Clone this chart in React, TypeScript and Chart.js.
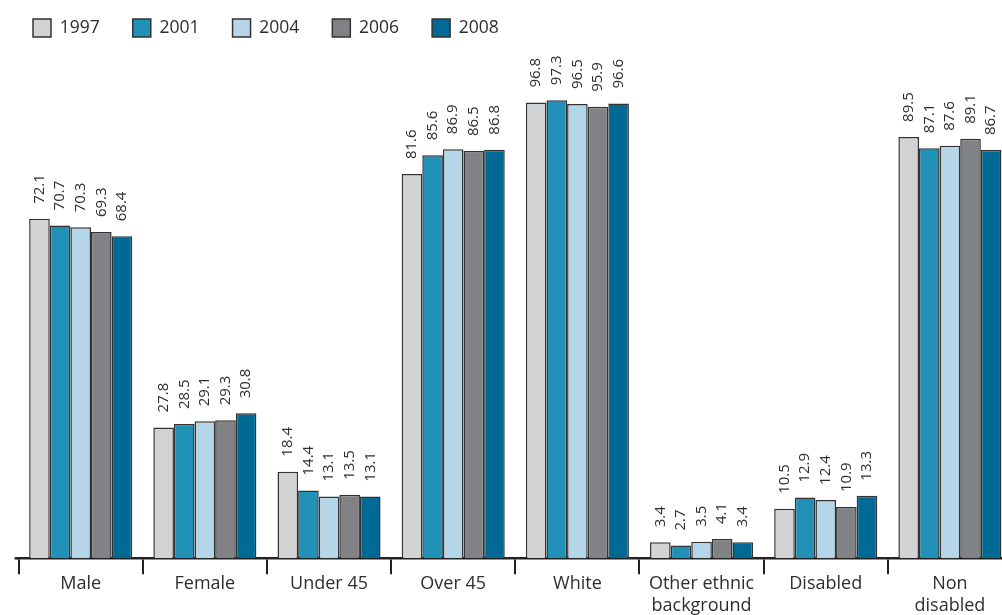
import React, { useEffect, useRef } from "react";
import { Chart, registerables } from "chart.js";

Chart.register(...registerables);

const categories: (string | string[])[] = [
  "Male",
  "Female",
  "Under 45",
  "Over 45",
  "White",
  ["Other ethnic", "background"],
  "Disabled",
  ["Non", "disabled"],
];

const years = ["1997", "2001", "2004", "2006", "2008"];

const values1997 = [72.1, 27.8, 18.4, 81.6, 96.8, 3.4, 10.5, 89.5];
const values2001 = [70.7, 28.5, 14.4, 85.6, 97.3, 2.7, 12.9, 87.1];
const values2004 = [70.3, 29.1, 13.1, 86.9, 96.5, 3.5, 12.4, 87.6];
const values2006 = [69.3, 29.3, 13.5, 86.5, 95.9, 4.1, 10.9, 89.1];
const values2008 = [68.4, 30.8, 13.1, 86.8, 96.6, 3.4, 13.3, 86.7];

const seriesValues = [values1997, values2001, values2004, values2006, values2008];
const seriesColors = ["#d1d3d4", "#2191b7", "#b5d6e8", "#808285", "#006994"];

const FONT = "'Open Sans', 'DejaVu Sans', sans-serif";
const TEXT = "#2e2e2e";
const LEFT_PAD = 18.6;

// Vertical value labels above every bar
const barValueLabels = {
  id: "barValueLabels",
  afterDatasetsDraw(chart: any) {
    const ctx = chart.ctx;
    ctx.save();
    ctx.fillStyle = TEXT;
    ctx.font = `15px ${FONT}`;
    ctx.textAlign = "left";
    ctx.textBaseline = "middle";
    chart.data.datasets.forEach((ds: any, di: number) => {
      const meta = chart.getDatasetMeta(di);
      meta.data.forEach((bar: any, i: number) => {
        const v = ds.data[i];
        ctx.save();
        ctx.translate(bar.x, bar.y - 15);
        ctx.rotate(-Math.PI / 2);
        ctx.fillText(v.toFixed(1), 0, 0);
        ctx.restore();
      });
    });
    ctx.restore();
  },
};

// Pull the legend row flush to the canvas edge instead of the plot's left inset
const legendToEdge = {
  id: "legendToEdge",
  afterLayout(chart: any) {
    const lg = chart.legend;
    if (lg) {
      lg.left -= LEFT_PAD;
      lg.right -= LEFT_PAD;
    }
  },
};

// Short stub of the baseline to the left of the first category
const axisStub = {
  id: "axisStub",
  afterDraw(chart: any) {
    const { ctx, chartArea } = chart;
    ctx.save();
    ctx.strokeStyle = "#222222";
    ctx.lineWidth = 2.5;
    ctx.beginPath();
    ctx.moveTo(chartArea.left - 4, chartArea.bottom);
    ctx.lineTo(chartArea.left, chartArea.bottom);
    ctx.stroke();
    ctx.restore();
  },
};

export default function App() {
  const canvasRef = useRef<HTMLCanvasElement | null>(null);

  useEffect(() => {
    if (!canvasRef.current) return;
    const chart = new Chart(canvasRef.current, {
      type: "bar",
      data: {
        labels: categories,
        datasets: years.map((y, i) => ({
          label: y,
          data: seriesValues[i],
          backgroundColor: seriesColors[i],
          borderColor: "#333333",
          borderWidth: 1.5,
          barPercentage: 1,
          categoryPercentage: 0.83,
        })),
      },
      options: {
        animation: false,
        responsive: false,
        layout: { padding: { left: LEFT_PAD, right: 0, top: 0, bottom: 10.5 } },
        plugins: {
          tooltip: { enabled: false },
          legend: {
            position: "top",
            align: "start",
            labels: {
              boxWidth: 18,
              boxHeight: 18,
              padding: 33,
              color: TEXT,
              font: { family: FONT, size: 17.5 },
            },
          },
        },
        scales: {
          x: {
            grid: {
              display: true,
              drawOnChartArea: false,
              drawTicks: true,
              tickLength: 16,
              color: "#222222",
              lineWidth: 2,
            },
            border: { display: true, color: "#222222", width: 2.5 },
            ticks: {
              color: TEXT,
              padding: -1,
              font: { family: FONT, size: 18, lineHeight: 1.2 },
              maxRotation: 0,
              autoSkip: false,
            },
          },
          y: {
            display: false,
            min: 0,
            max: 108.6,
          },
        },
      },
      plugins: [barValueLabels, legendToEdge, axisStub],
    });
    return () => chart.destroy();
  }, []);

  return (
    <div
      style={{
        position: "fixed",
        left: 0,
        top: 0,
        width: 1002,
        height: 615,
        overflow: "hidden",
        background: "#ffffff",
      }}
    >
      <canvas
        ref={canvasRef}
        width={1012}
        height={640}
        style={{ position: "absolute", left: 0, top: -14 }}
      />
    </div>
  );
}
